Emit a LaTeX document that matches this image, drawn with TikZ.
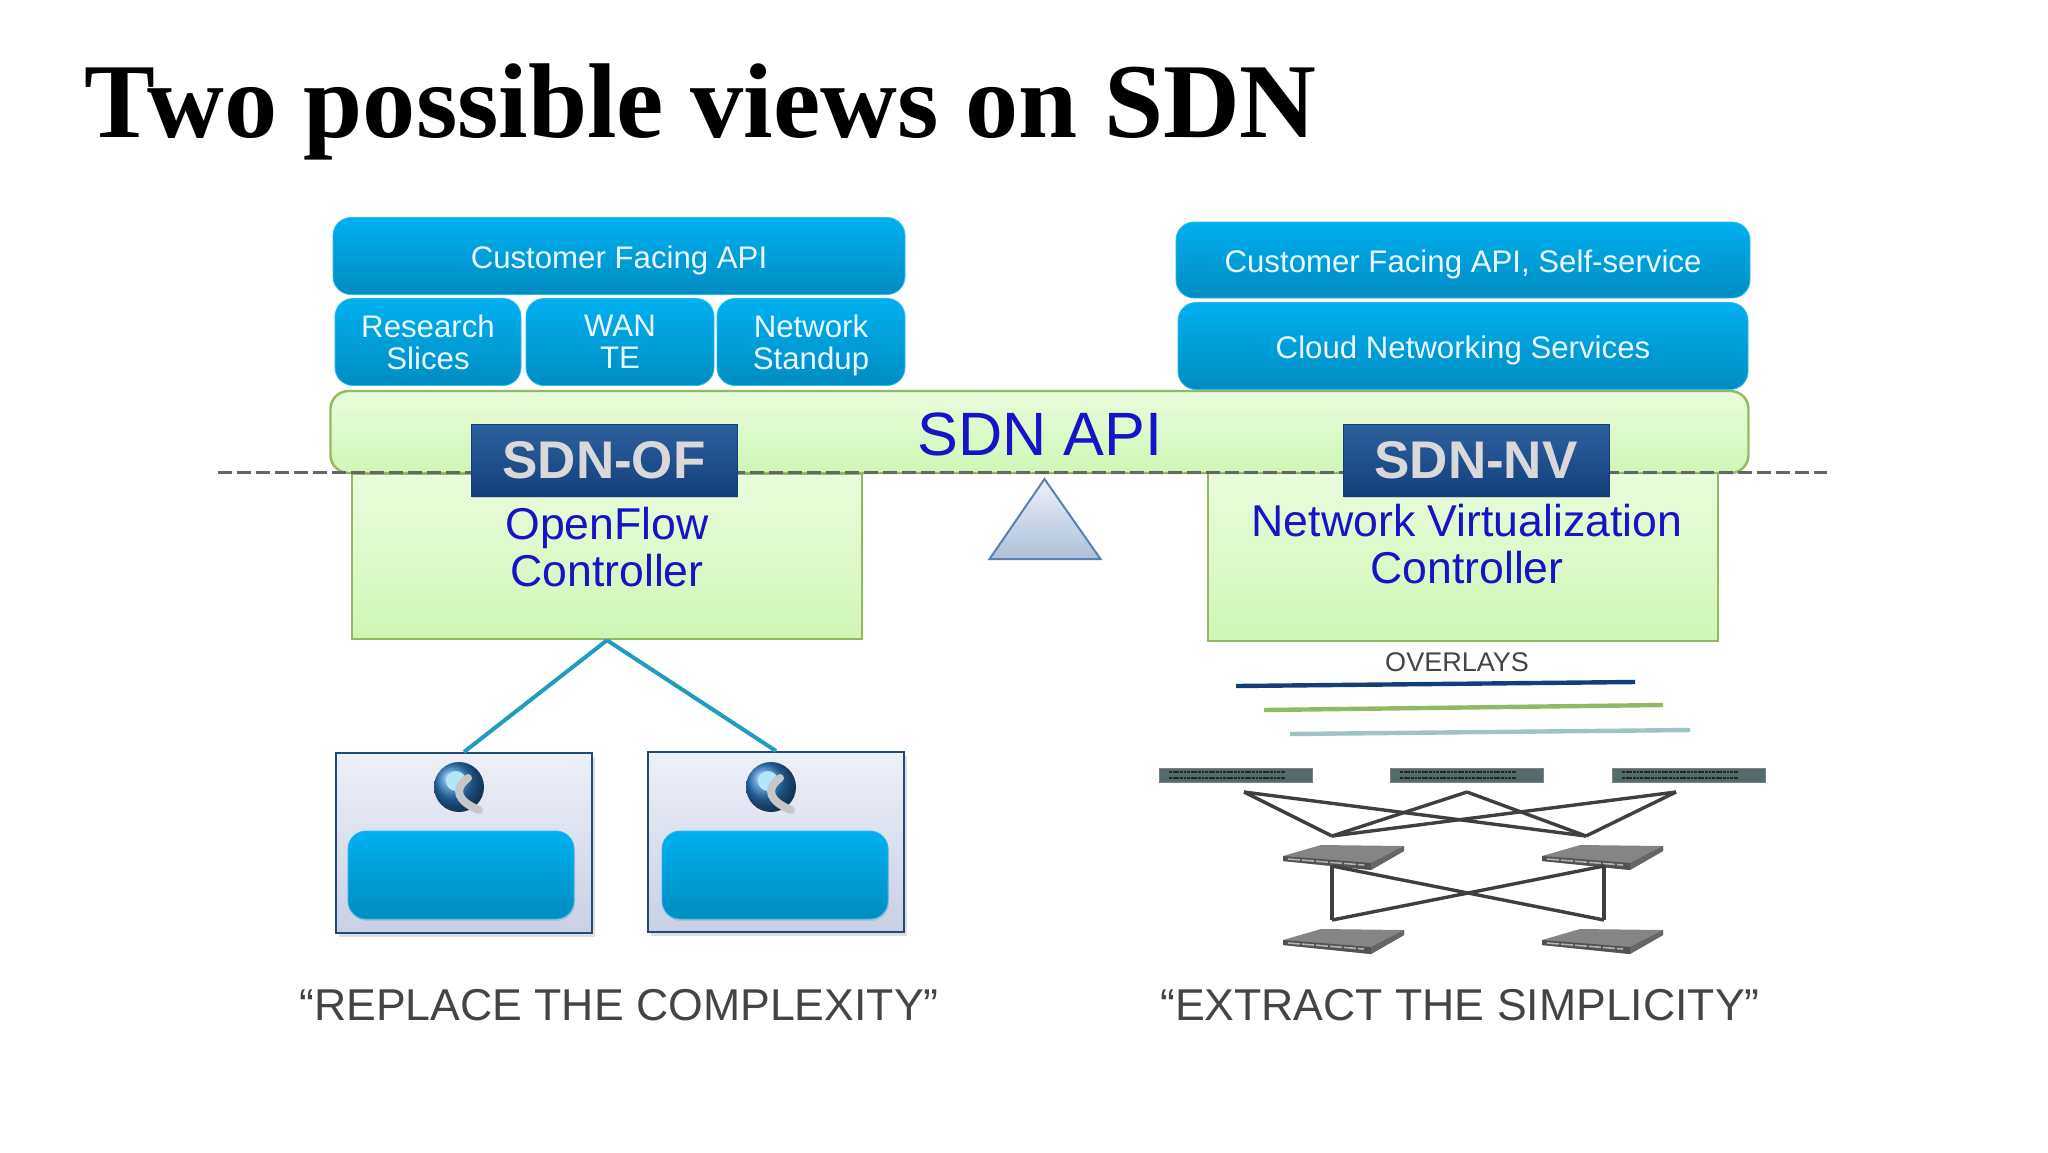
\documentclass[tikz,border=0pt]{standalone}
\usepackage{fontspec}
\setmainfont{Liberation Sans}
\newfontfamily\titlefont{Liberation Serif}
\usetikzlibrary{calc,positioning,shadows}
\definecolor{bluetop}{HTML}{00B0F0}
\definecolor{bluebot}{HTML}{008CC2}
\definecolor{greentop}{HTML}{EAFCDC}
\definecolor{greenbot}{HTML}{CFF6B4}
\definecolor{greenline}{HTML}{93B864}
\definecolor{navytop}{HTML}{2E619F}
\definecolor{navybot}{HTML}{123F7A}
\definecolor{labelblue}{HTML}{1414C8}
\definecolor{quotegray}{HTML}{444444}
\definecolor{linkteal}{HTML}{1F9DBE}
\definecolor{linkgray}{HTML}{3F3F3F}
\definecolor{servertop}{HTML}{EEF0F8}
\definecolor{serverbot}{HTML}{C9D0E4}
\definecolor{globeblue}{HTML}{2D7CC4}
\tikzset{
  bluebox/.style = {rounded corners=9pt, top color=bluetop, bottom color=bluebot, draw=bluetop!85!white, line width=.4pt, text=white!92!cyan, align=center, inner sep=0pt, font=\fontsize{15.6}{15.8}\selectfont},
  lowered/.style = {text height=16pt},
  twolines/.style = {text depth=0pt},
  greenbox/.style = {top color=greentop, bottom color=greenbot, draw=greenline, line width=1.2pt, inner sep=0pt},
  navybox/.style = {top color=navytop, bottom color=navybot, draw=navybot, line width=.5pt, text=black!15, inner sep=0pt, font=\bfseries\fontsize{26.5}{30}\selectfont, drop shadow={shadow xshift=.5pt,shadow yshift=-1pt,opacity=.35}},
  bluelabel/.style = {text=labelblue, align=center, inner sep=0pt, font=\fontsize{22.3}{23.5}\selectfont},
  serverbox/.style = {top color=servertop, bottom color=serverbot, draw=navytop!75!black, line width=1pt, inner sep=0pt, drop shadow={shadow xshift=1.5pt,shadow yshift=-2pt,opacity=.25}},
  torbox/.style = {fill=black!45!teal!35!gray, draw=black!50, line width=.3pt, inner sep=0pt, minimum width=76.5pt, minimum height=7pt},
  quote/.style = {text=quotegray, inner sep=0pt, font=\fontsize{22.3}{25}\selectfont},
  overlay/.style = {line width=2.2pt},
  fabric/.style = {draw=linkgray, line width=1.7pt},
  spineswitch/.pic = {
    \fill[black!48] (-45,-2) -- (-7,-13) -- (76,-12) -- (76,-7) -- (43,12) -- (-45,3) -- cycle;
    \fill[black!68] (-45,-2) -- (43,5) -- (43,12) -- (-45,3) -- cycle;
    \fill[black!60] (43,5) -- (76,-12) -- (76,-7) -- (43,12) -- cycle;
    \draw[black!30, line width=.8pt, dash pattern=on 6pt off 1pt] (-40,1) -- (36,7);
  },
  globeicon/.pic = {
    \shade[ball color=globeblue] (0,0) circle (25);
    \fill[white!70!cyan] (-3,-6) circle (10);
    \draw[black!22, line width=4pt, line cap=round] (9,-9) .. controls (-6,2) and (-2,14) .. (20,23);
  }
}
\begin{document}
\begin{tikzpicture}[x=.5pt, y=-.5pt]
  \useasboundingbox (0,0) rectangle (2048,1152);
  % title
  \node[anchor=base west, inner sep=0pt, font=\titlefont\bfseries\fontsize{53.15}{60}\selectfont] (title) at (84,137) {Two possible views on SDN};

  % left stack
  \node[bluebox, lowered, minimum width=286pt, minimum height=38.5pt] (custleft) at (619,256) {Customer Facing API};
  \node[bluebox, twolines, minimum width=93pt, minimum height=43.5pt] (research) at (428,342) {Research\\Slices};
  \node[bluebox, twolines, minimum width=94pt, minimum height=43.5pt] (wan) at (620,342) {WAN\\TE};
  \node[bluebox, twolines, minimum width=94pt, minimum height=43.5pt] (standup) at (811,342) {Network\\Standup};
  % right stack
  \node[bluebox, lowered, minimum width=287pt, minimum height=38pt] (custright) at (1469-6,260) {Customer Facing API, Self-service};
  \node[bluebox, lowered, minimum width=285pt, minimum height=43.5pt] (cloud) at (1469-6,346) {Cloud Networking Services};

  % controllers
  \node[greenbox, minimum width=255pt, minimum height=82.5pt] (ofbox) at (607,556.5) {};
  \node[greenbox, minimum width=255pt, minimum height=84.5pt] (nvbox) at (1463,556.5) {};
  \node[greenbox, rounded corners=9pt, minimum width=709pt, minimum height=41pt] (api) at (1039.5,432) {};
  \node[text=labelblue, inner sep=0pt, font=\fontsize{30.6}{34}\selectfont] (apitext) at (1040,434.5) {SDN API};

  % dashed level
  \coordinate (dashl) at (218,472.5);
  \coordinate (dashr) at (1827,472.5);
  \draw[black!60, line width=1.5pt, dash pattern=on 7pt off 2.5pt] (dashl) -- (dashr);

  \node[navybox, minimum width=133pt, minimum height=36pt] (sdnof) at (604,460) {SDN-OF};
  \node[navybox, minimum width=133pt, minimum height=36pt] (sdnnv) at (1476,460) {SDN-NV};
  \node[bluelabel] (oftext) at (607,547) {OpenFlow\\Controller};
  \node[bluelabel] (nvtext) at (1467,544) {Network Virtualization\\Controller};

  % pivot
  \coordinate (pivota) at (1044.5,479);
  \coordinate (pivotb) at (1100.5,559);
  \coordinate (pivotc) at (989.5,559);
  \draw[draw=navytop!80, line width=1pt, top color=servertop, bottom color=navytop!40!white] (pivota) -- (pivotb) -- (pivotc) -- cycle;

  % servers
  \node[serverbox, minimum width=128pt, minimum height=90pt] (srva) at (464,843) {};
  \node[serverbox, minimum width=128pt, minimum height=90pt] (srvb) at (776,842) {};
  \node[bluebox, minimum width=113pt, minimum height=44pt, drop shadow={shadow xshift=.5pt,shadow yshift=-1pt,opacity=.25}] (appa) at (461,875) {};
  \node[bluebox, minimum width=113pt, minimum height=44pt, drop shadow={shadow xshift=.5pt,shadow yshift=-1pt,opacity=.25}] (appb) at (775,875) {};
  \pic at (459,787) {globeicon};
  \pic at (771,787) {globeicon};
  \draw[linkteal, line width=2pt] (ofbox.south) -- (srva.north);
  \draw[linkteal, line width=2pt] (ofbox.south) -- (srvb.north);

  % overlays
  \node[text=quotegray, inner sep=0pt, font=\fontsize{13.5}{15}\selectfont] (overlays) at (1457,662) {OVERLAYS};
  \coordinate (ola) at (1236,686);
  \coordinate (olb) at (1635,682);
  \coordinate (olc) at (1264,710);
  \coordinate (old) at (1663,705);
  \coordinate (ole) at (1290,734);
  \coordinate (olf) at (1690,730);
  \draw[overlay, draw=navybot] (ola) -- (olb);
  \draw[overlay, draw=greenline] (olc) -- (old);
  \draw[overlay, draw=blue!10!cyan!25!gray!60!white] (ole) -- (olf);

  % fabric
  \node[torbox] (tora) at (1236,775) {};
  \node[torbox] (torb) at (1467,775) {};
  \node[torbox] (torc) at (1689,775) {};
  \foreach \t in {tora,torb,torc} {
    \draw[black!85, line width=1.2pt, dash pattern=on 1.4pt off .4pt] ($(\t.west)+(10,-3)$) -- ($(\t.east)+(-28,-3)$);
    \draw[black!85, line width=1.2pt, dash pattern=on 1.4pt off .4pt] ($(\t.west)+(10,3)$) -- ($(\t.east)+(-28,3)$);
  }
  \pic at (1328,858) {spineswitch};
  \pic at (1587,858) {spineswitch};
  \pic at (1328,942) {spineswitch};
  \pic at (1587,942) {spineswitch};
  \coordinate (upa) at (1244,792);
  \coordinate (upb) at (1467,792);
  \coordinate (upc) at (1676,792);
  \coordinate (spa) at (1332,836);
  \coordinate (spb) at (1586,836);
  \coordinate (spc) at (1332,866);
  \coordinate (spd) at (1604,866);
  \coordinate (spe) at (1332,920);
  \coordinate (spf) at (1604,920);
  \foreach \u in {upa,upb,upc} {
    \draw[fabric] (\u) -- (spa);
    \draw[fabric] (\u) -- (spb);
  }
  \draw[fabric] (spc) -- (spe);
  \draw[fabric] (spd) -- (spf);
  \draw[fabric] (spc) -- (spf);
  \draw[fabric] (spd) -- (spe);

  % captions
  \node[quote] (quoteleft) at (619,1005) {“REPLACE THE COMPLEXITY”};
  \node[quote] (quoteright) at (1460,1005) {“EXTRACT THE SIMPLICITY”};
\end{tikzpicture}
\end{document}
